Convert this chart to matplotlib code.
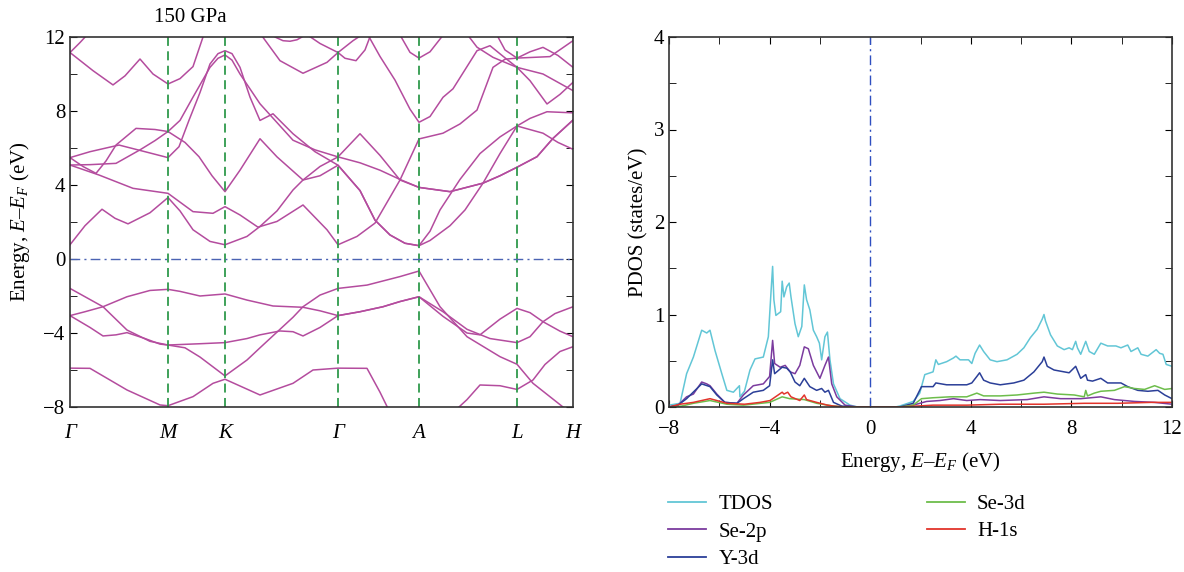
import matplotlib
matplotlib.use('Agg')
import matplotlib.pyplot as plt
from matplotlib.ticker import MultipleLocator
from matplotlib.lines import Line2D

plt.rcParams['font.family'] = ['Liberation Serif', 'DejaVu Serif']
plt.rcParams['mathtext.fontset'] = 'custom'
plt.rcParams['mathtext.rm'] = 'Liberation Serif'
plt.rcParams['mathtext.it'] = 'Liberation Serif:italic'

# ---- band structure (k along path, energy in eV) ----
k_nodes = [0, 98, 155, 268, 349, 447, 503]
k_labels = ['Γ', 'M', 'K', 'Γ', 'A', 'L', 'H']

vb1 = [(0, -1.59), (33, -2.58), (57, -3.84), (80, -4.45), (98, -4.65), (115, -4.8), (130, -5.3),
       (155, -6.32), (177, -5.46), (190, -4.8), (207, -3.95), (223, -3.15), (233, -2.58), (250, -1.95),
       (268, -1.59), (297, -1.41), (330, -0.95), (349, -0.65), (370, -2.58), (397, -4.2), (430, -5.28),
       (447, -5.69), (463, -6.72), (493, -8.0), (503, -8.3)]
vb2 = [(0, -3.06), (15, -2.85), (33, -2.58), (57, -2.04), (80, -1.7), (98, -1.64), (110, -1.75),
       (130, -2.0), (155, -1.89), (177, -2.22), (203, -2.54), (233, -2.61), (250, -2.8), (268, -3.06),
       (290, -2.85), (313, -2.58), (330, -2.3), (349, -2.04), (373, -2.85), (397, -3.8), (420, -4.3),
       (447, -4.52), (460, -4.2), (473, -3.39), (485, -2.95), (503, -2.58)]
vb3 = [(0, -3.06), (20, -3.7), (33, -4.16), (46, -4.1), (57, -3.98), (75, -4.3), (90, -4.6), (98, -4.65),
       (130, -4.58), (155, -4.52), (177, -4.3), (190, -4.1), (210, -3.89), (223, -3.93), (233, -4.16),
       (250, -3.7), (268, -3.06), (290, -2.85), (313, -2.58), (330, -2.3), (349, -2.04), (373, -3.1),
       (397, -4.0), (410, -4.1), (430, -3.25), (447, -2.67), (460, -2.9), (473, -3.39), (490, -3.9),
       (503, -4.2)]
vb4 = [(0, -5.9), (20, -5.91), (57, -7.08), (90, -7.89), (98, -7.93), (123, -7.44), (143, -6.72),
       (155, -6.5), (190, -7.35), (223, -6.72), (243, -6.0), (268, -5.9), (297, -5.91), (310, -7.2),
       (320, -8.3)]
vb5 = [(383, -8.3), (397, -7.6), (410, -6.81), (430, -6.85), (447, -7.05), (463, -6.54), (475, -5.7),
       (490, -5.0), (503, -4.74)]

cb1 = [(0, 0.77), (15, 1.8), (32, 2.69), (45, 2.2), (58, 1.9), (80, 2.5), (98, 3.32), (110, 2.6),
       (123, 1.58), (140, 0.95), (155, 0.77), (177, 1.22), (190, 1.76), (207, 2.6), (223, 3.73),
       (233, 4.27), (250, 5.0), (268, 5.52), (290, 6.77), (310, 5.6), (330, 4.27), (349, 3.87),
       (380, 3.64), (413, 4.1), (430, 4.5), (447, 4.96), (467, 5.53), (483, 6.52), (503, 7.51)]
cb2 = [(0, 5.08), (29, 4.54), (63, 3.82), (98, 3.55), (123, 2.56), (143, 2.47), (155, 2.83),
       (170, 2.38), (188, 1.72), (207, 2.03), (233, 2.92), (257, 1.58), (268, 0.77), (287, 1.22),
       (305, 1.94), (330, 4.27), (349, 6.49), (373, 6.8), (390, 7.3), (407, 8.05), (423, 10.36),
       (435, 10.8), (447, 10.86), (460, 11.2), (473, 11.44), (488, 11.0), (503, 10.36)]
cb3 = [(0, 5.48), (13, 5.0), (26, 4.63), (36, 5.3), (46, 6.16), (66, 7.06), (85, 7.0), (98, 6.89),
       (110, 7.49), (123, 8.75), (140, 10.36), (148, 10.85), (155, 11.03), (162, 10.75), (170, 10.0),
       (190, 8.39), (223, 6.42), (245, 5.9), (268, 5.52), (290, 5.2), (310, 4.8), (330, 4.3),
       (349, 3.87), (380, 3.64), (413, 4.1), (430, 4.5), (447, 4.96), (467, 5.53), (483, 6.52),
       (503, 7.51)]
cb4 = [(0, 5.48), (20, 5.8), (49, 6.16), (75, 5.8), (98, 5.48), (109, 6.07), (119, 7.5), (130, 9.0),
       (140, 10.54), (148, 11.1), (155, 11.26), (162, 11.1), (170, 10.36), (180, 8.75), (190, 7.49),
       (203, 7.85), (223, 6.77), (245, 5.8), (268, 5.07), (290, 3.7), (305, 2.1), (320, 1.3),
       (335, 0.85), (349, 0.72), (360, 1.5), (370, 2.65), (390, 4.3), (410, 5.7), (430, 6.6),
       (447, 7.19), (460, 7.6), (477, 7.96), (503, 7.9)]
cb5 = [(0, 5.08), (20, 5.1), (46, 5.17), (70, 5.9), (85, 6.4), (98, 6.89), (115, 6.3), (129, 5.53),
       (142, 4.5), (155, 3.64), (170, 4.8), (190, 6.5), (207, 5.52), (233, 4.27), (250, 4.5),
       (268, 5.07), (290, 3.7), (305, 2.1), (320, 1.3), (335, 0.85), (349, 0.72), (360, 1.0),
       (380, 1.8), (395, 2.65), (413, 4.1), (430, 5.7), (447, 7.19), (473, 6.8), (488, 6.3),
       (503, 5.93)]

tb1 = [(0, 11.16), (10, 11.7), (22, 12.4)]
tb2 = [(0, 11.16), (23, 10.18), (43, 9.41), (55, 9.9), (70, 10.81), (83, 10.0), (98, 9.46),
       (110, 9.75), (123, 10.4), (133, 12.0), (137, 12.5)]
tb3 = [(200, 12.5), (205, 12.0), (213, 11.8), (220, 11.77), (227, 11.85), (232, 12.0), (236, 12.4)]
tb4 = [(188, 12.4), (193, 11.98), (210, 10.72), (233, 10.04), (257, 10.63), (268, 11.16),
       (283, 11.8), (297, 12.3)]
tb5 = [(235, 12.2), (250, 11.65), (268, 11.16), (275, 10.85), (286, 10.72), (295, 11.3), (302, 12.3)]
tb6 = [(296, 12.3), (310, 10.95), (325, 9.67), (340, 8.1), (349, 7.39), (360, 7.7), (373, 8.74),
       (383, 9.2), (390, 9.8), (407, 11.26), (420, 11.53), (433, 10.96), (447, 10.36), (460, 9.64),
       (477, 8.38), (490, 8.9), (503, 9.55)]
tb7 = [(328, 12.3), (340, 11.17), (349, 10.86), (360, 11.2), (376, 12.3)]
tb8 = [(395, 12.3), (407, 11.45), (423, 10.9), (447, 10.36), (473, 10.0), (503, 9.1)]
tb9 = [(425, 12.3), (435, 11.3), (447, 10.86), (480, 10.94), (503, 11.8)]

bands = [vb1, vb2, vb3, vb4, vb5, cb1, cb2, cb3, cb4, cb5,
         tb1, tb2, tb3, tb4, tb5, tb6, tb7, tb8, tb9]

# ---- PDOS (energy, states/eV) ----
tdos = [(-8, 0.02), (-7.56, 0.04), (-7.3, 0.36), (-7.03, 0.54), (-6.7, 0.83), (-6.5, 0.8),
        (-6.37, 0.83), (-6.17, 0.61), (-5.9, 0.36), (-5.7, 0.18), (-5.44, 0.16), (-5.2, 0.23),
        (-5.18, 0.11), (-5.0, 0.17), (-4.78, 0.4), (-4.58, 0.52), (-4.25, 0.54), (-4.05, 0.76),
        (-3.94, 1.26), (-3.88, 1.52), (-3.83, 1.16), (-3.75, 0.99), (-3.56, 1.03), (-3.5, 1.36),
        (-3.43, 1.19), (-3.32, 1.3), (-3.22, 1.34), (-3.15, 1.19), (-2.99, 0.9), (-2.86, 0.76),
        (-2.72, 0.87), (-2.62, 1.32), (-2.53, 1.16), (-2.4, 1.05), (-2.26, 0.83), (-2.13, 0.76),
        (-2.02, 0.69), (-1.93, 0.51), (-1.8, 0.76), (-1.7, 0.81), (-1.6, 0.51), (-1.46, 0.25),
        (-1.2, 0.09), (-0.8, 0.02), (-0.5, 0.0), (1.0, 0.0), (1.17, 0.01), (1.71, 0.06),
        (1.97, 0.15), (2.17, 0.35), (2.5, 0.38), (2.61, 0.51), (2.71, 0.46), (3.04, 0.49),
        (3.31, 0.53), (3.41, 0.55), (3.57, 0.51), (3.91, 0.51), (4.04, 0.47), (4.17, 0.58),
        (4.35, 0.67), (4.51, 0.6), (4.77, 0.51), (5.04, 0.49), (5.44, 0.51), (5.84, 0.57),
        (6.11, 0.64), (6.37, 0.75), (6.64, 0.84), (6.84, 0.95), (6.91, 1.0), (6.97, 0.93),
        (7.17, 0.78), (7.44, 0.66), (7.71, 0.62), (7.91, 0.64), (8.04, 0.62), (8.17, 0.71),
        (8.24, 0.64), (8.37, 0.57), (8.57, 0.71), (8.71, 0.6), (8.91, 0.57), (9.17, 0.69),
        (9.44, 0.66), (9.77, 0.66), (9.97, 0.64), (10.24, 0.67), (10.37, 0.6), (10.64, 0.64),
        (10.77, 0.57), (11.04, 0.55), (11.37, 0.62), (11.51, 0.58), (11.64, 0.57), (11.77, 0.46),
        (12.0, 0.44)]
se2p = [(-8, 0.0), (-7.64, 0.02), (-7.3, 0.11), (-7.03, 0.14), (-6.7, 0.27), (-6.5, 0.25),
        (-6.37, 0.23), (-6.1, 0.14), (-5.78, 0.05), (-5.3, 0.04), (-5.04, 0.13), (-4.65, 0.23),
        (-4.25, 0.25), (-4.0, 0.33), (-3.88, 0.72), (-3.8, 0.47), (-3.58, 0.43), (-3.38, 0.45),
        (-3.18, 0.38), (-2.99, 0.36), (-2.8, 0.45), (-2.62, 0.65), (-2.46, 0.63), (-2.26, 0.45),
        (-2.0, 0.31), (-1.8, 0.45), (-1.66, 0.54), (-1.53, 0.25), (-1.33, 0.11), (-1.0, 0.02),
        (-0.5, 0.0), (1.2, 0.0), (1.71, 0.02), (2.24, 0.06), (2.77, 0.07), (3.31, 0.09),
        (3.84, 0.07), (4.37, 0.08), (5.17, 0.07), (6.24, 0.08), (6.91, 0.11), (7.57, 0.09),
        (8.37, 0.09), (9.17, 0.11), (9.71, 0.08), (10.51, 0.06), (11.31, 0.05), (12.0, 0.03)]
y3d = [(-8, 0.0), (-7.64, 0.02), (-7.3, 0.09), (-6.7, 0.25), (-6.37, 0.22), (-6.1, 0.13),
       (-5.78, 0.05), (-5.3, 0.04), (-5.04, 0.09), (-4.65, 0.16), (-4.25, 0.18), (-4.0, 0.23),
       (-3.88, 0.51), (-3.8, 0.36), (-3.5, 0.43), (-3.32, 0.42), (-3.18, 0.38), (-2.99, 0.27),
       (-2.8, 0.23), (-2.62, 0.31), (-2.4, 0.22), (-2.13, 0.18), (-1.93, 0.2), (-1.8, 0.16),
       (-1.66, 0.18), (-1.46, 0.05), (-1.13, 0.01), (-0.5, 0.0), (1.17, 0.0), (1.71, 0.04),
       (2.04, 0.22), (2.5, 0.22), (2.61, 0.26), (3.04, 0.24), (3.84, 0.24), (4.04, 0.26),
       (4.24, 0.33), (4.35, 0.37), (4.51, 0.29), (4.77, 0.26), (5.17, 0.24), (5.71, 0.26),
       (6.11, 0.29), (6.51, 0.38), (6.84, 0.49), (6.91, 0.54), (7.04, 0.44), (7.31, 0.4),
       (7.71, 0.38), (7.91, 0.37), (8.17, 0.44), (8.37, 0.31), (8.57, 0.35), (8.64, 0.29),
       (8.84, 0.28), (9.17, 0.31), (9.44, 0.26), (9.97, 0.26), (10.24, 0.22), (10.64, 0.18),
       (11.04, 0.17), (11.44, 0.18), (11.71, 0.13), (12.0, 0.09)]
se3d = [(-8, 0.0), (-7.5, 0.01), (-7.03, 0.04), (-6.37, 0.07), (-5.7, 0.03), (-5.04, 0.02),
        (-4.0, 0.05), (-3.5, 0.11), (-3.2, 0.09), (-2.62, 0.08), (-2.13, 0.04), (-1.46, 0.01),
        (-1.0, 0.0), (1.17, 0.0), (1.71, 0.02), (2.04, 0.09), (2.5, 0.1), (3.17, 0.11),
        (3.84, 0.11), (4.24, 0.15), (4.51, 0.12), (5.17, 0.12), (5.84, 0.13), (6.51, 0.15),
        (6.91, 0.16), (7.44, 0.14), (8.11, 0.13), (8.51, 0.11), (8.57, 0.18), (8.64, 0.12),
        (8.91, 0.15), (9.17, 0.17), (9.71, 0.18), (10.11, 0.22), (10.51, 0.2), (10.91, 0.19),
        (11.31, 0.23), (11.71, 0.19), (12.0, 0.2)]
h1s = [(-8, 0.0), (-7.56, 0.03), (-7.03, 0.05), (-6.37, 0.09), (-6.1, 0.07), (-5.7, 0.04),
       (-5.0, 0.03), (-4.38, 0.05), (-3.98, 0.07), (-3.5, 0.16), (-3.43, 0.14), (-3.28, 0.16),
       (-3.15, 0.11), (-2.8, 0.07), (-2.62, 0.13), (-2.53, 0.08), (-2.13, 0.05), (-1.7, 0.02),
       (-1.46, 0.01), (-1.0, 0.0), (1.17, 0.0), (2.5, 0.02), (3.84, 0.02), (5.17, 0.03),
       (6.91, 0.03), (8.51, 0.04), (9.84, 0.04), (11.17, 0.05), (12.0, 0.05)]

dos_series = [('TDOS', tdos, '#62c6d6'), ('Se-2p', se2p, '#7b3b9e'), ('Y-3d', y3d, '#2b3f98'),
              ('Se-3d', se3d, '#6dbd4b'), ('H-1s', h1s, '#e2342b')]

band_color = '#b44c9e'
green = '#2f9a4c'
blue = '#4b63b3'
fs = 15

fig = plt.figure(figsize=(11.84, 5.72), dpi=100)
ax1 = fig.add_axes([70 / 1184, 165 / 572, 503 / 1184, 370 / 572])
ax2 = fig.add_axes([669 / 1184, 165 / 572, 503 / 1184, 370 / 572])

# left: bands
for b in bands:
    ks = [p[0] for p in b]
    es = [p[1] for p in b]
    ax1.plot(ks, es, color=band_color, lw=1.1)
for kn in k_nodes[1:-1]:
    ax1.axvline(kn, color=green, lw=1.3, ls=(0, (5, 3)))
ax1.axhline(0, color=blue, lw=1.0, ls=(0, (7, 3, 1.5, 3)))
ax1.set_xlim(k_nodes[0], k_nodes[-1])
ax1.set_ylim(-8, 12)
ax1.set_xticks(k_nodes)
ax1.set_xticklabels(k_labels, fontstyle='italic')
ax1.yaxis.set_major_locator(MultipleLocator(4))
ax1.yaxis.set_minor_locator(MultipleLocator(2))
ax1.tick_params(axis='x', length=0, labelsize=fs, pad=12)
ax1.tick_params(axis='y', which='both', direction='in', length=5, right=True, labelsize=fs)
ax1.set_ylabel('Energy, $E$–$E_F$ (eV)', fontsize=fs, labelpad=8)
fig.text(190 / 1184, 1 - 18 / 572, '150 GPa', ha='center', va='center', fontsize=fs)

# right: PDOS
for name, d, c in dos_series:
    ax2.plot([p[0] for p in d], [p[1] for p in d], color=c, lw=1.1, label=name)
ax2.axvline(0, color='#2f4fc0', lw=1.0, ls=(0, (7, 3, 1.5, 3)))
ax2.set_xlim(-8, 12)
ax2.set_ylim(0, 4)
ax2.xaxis.set_major_locator(MultipleLocator(4))
ax2.xaxis.set_minor_locator(MultipleLocator(2))
ax2.yaxis.set_major_locator(MultipleLocator(1))
ax2.yaxis.set_minor_locator(MultipleLocator(0.5))
ax2.tick_params(which='both', direction='in', length=5, top=True, right=True, labelsize=fs)
ax2.tick_params(axis='x', pad=9)
ax2.set_xlabel('Energy, $E$–$E_F$ (eV)', fontsize=fs, labelpad=8)
ax2.set_ylabel('PDOS (states/eV)', fontsize=fs)

for ax in (ax1, ax2):
    for s in ax.spines.values():
        s.set_linewidth(1.2)
        s.set_color('#333333')

handles = [Line2D([], [], color=c, lw=1.3) for _, _, c in dos_series]
labels = [n for n, _, _ in dos_series]
fig.legend(handles, labels, ncol=2, loc='upper left', bbox_to_anchor=(658 / 1184, 1 - 484 / 572),
           frameon=False, fontsize=fs, handlelength=1.8, handletextpad=0.6,
           columnspacing=7.4, labelspacing=0.38, borderpad=0)

fig.savefig('out.png', dpi=100)
